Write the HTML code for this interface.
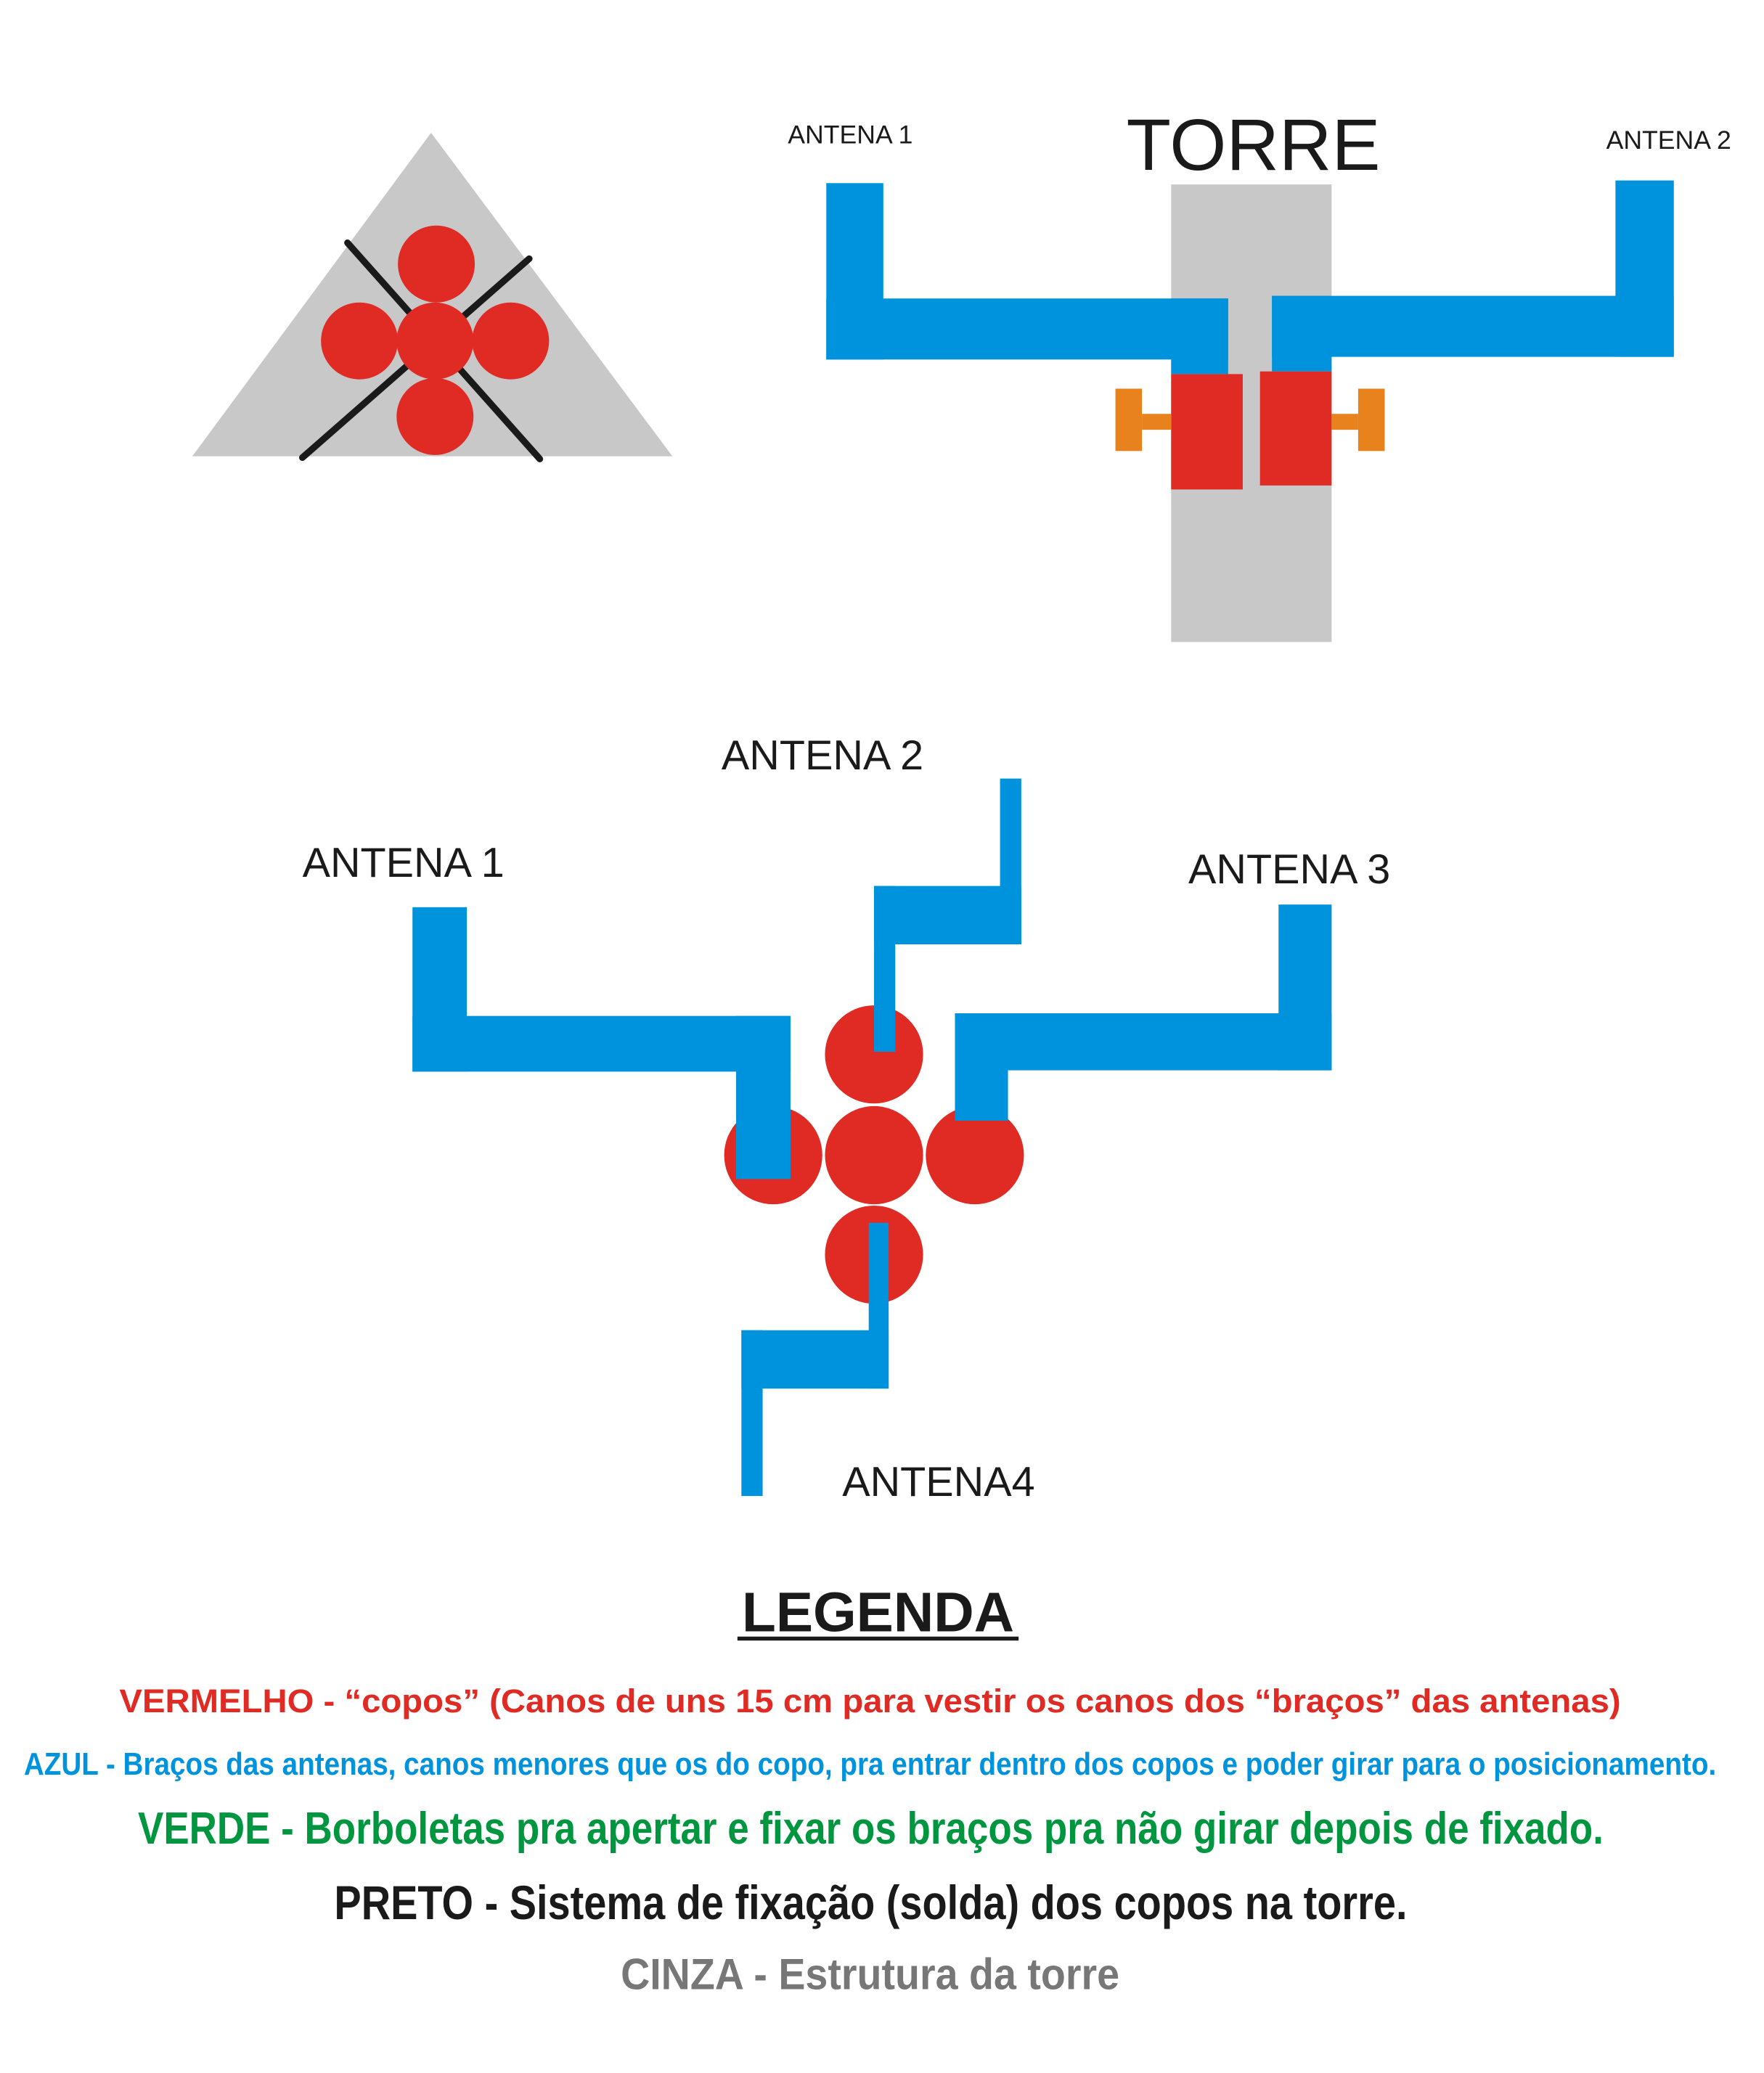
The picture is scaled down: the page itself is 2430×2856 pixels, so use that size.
<!DOCTYPE html>
<html><head><meta charset="utf-8"><style>html,body{margin:0;padding:0;background:#fff}svg{display:block}</style></head>
<body>
<svg width="2430" height="2856" viewBox="0 0 1330 1563" xmlns="http://www.w3.org/2000/svg" font-family="Liberation Sans, sans-serif">
<rect width="1330" height="1563" fill="#fff"/>
<polygon points="325,100 145,344 507,344" fill="#c8c8c8"/>
<g stroke="#1a1a1a" stroke-width="5" stroke-linecap="round">
<line x1="262" y1="183" x2="407" y2="346"/>
<line x1="399" y1="195" x2="228" y2="345"/>
</g>
<g fill="#e02a24">
<circle cx="329" cy="199" r="29"/><circle cx="271" cy="257" r="29"/><circle cx="328" cy="257" r="29"/><circle cx="385" cy="257" r="29"/><circle cx="328" cy="314" r="29"/>
</g>
<rect x="883" y="139" width="121" height="345" fill="#c8c8c8"/>
<text x="945" y="128" font-size="55" text-anchor="middle" fill="#1a1a1a">TORRE</text>
<g fill="#0093dd">
<rect x="623" y="138" width="43" height="133"/><rect x="623" y="225" width="303" height="46"/><rect x="883" y="225" width="43" height="57"/>
<rect x="1218" y="136" width="44" height="133"/><rect x="959" y="223" width="303" height="46"/><rect x="959" y="223" width="45" height="57"/>
</g>
<rect x="883" y="282" width="54" height="87" fill="#e02a24"/>
<rect x="950" y="280" width="54" height="86" fill="#e02a24"/>
<g fill="#e8821c">
<rect x="841" y="293" width="20" height="47"/><rect x="861" y="312" width="22" height="12"/>
<rect x="1024" y="293" width="20" height="47"/><rect x="1004" y="312" width="20" height="12"/>
</g>
<text x="594" y="108" font-size="19.5" fill="#1a1a1a">ANTENA 1</text>
<text x="1211" y="112" font-size="19.5" fill="#1a1a1a">ANTENA 2</text>
<g fill="#e02a24">
<circle cx="659" cy="795" r="37"/><circle cx="583" cy="871" r="37"/><circle cx="659" cy="871" r="37"/><circle cx="735" cy="871" r="37"/><circle cx="659" cy="946" r="37"/>
</g>
<g fill="#0093dd">
<rect x="311" y="684" width="41" height="124"/><rect x="311" y="766" width="285" height="42"/><rect x="555" y="766" width="41" height="123"/>
<rect x="754" y="587" width="16" height="125"/><rect x="659" y="668" width="111" height="44"/><rect x="659" y="668" width="16" height="125"/>
<rect x="964" y="682" width="40" height="125"/><rect x="720" y="764" width="284" height="43"/><rect x="720" y="764" width="40" height="81"/>
<rect x="655" y="922" width="15" height="125"/><rect x="559" y="1003" width="111" height="44"/><rect x="559" y="1003" width="16" height="125"/>
</g>
<g font-size="31.5" fill="#1a1a1a">
<text x="544" y="580">ANTENA 2</text>
<text x="228" y="661">ANTENA 1</text>
<text x="896" y="666">ANTENA 3</text>
<text x="635" y="1128">ANTENA4</text>
</g>
<text x="662" y="1230" font-size="42" font-weight="bold" text-anchor="middle" fill="#1a1a1a">LEGENDA</text>
<rect x="556" y="1234" width="212" height="3" fill="#1a1a1a"/>
<g font-weight="bold">
<text x="90" y="1291" font-size="25" fill="#e02a24" textLength="1132" lengthAdjust="spacingAndGlyphs">VERMELHO - “copos” (Canos de uns 15 cm para vestir os canos dos “braços” das antenas)</text>
<text x="18" y="1338" font-size="24" fill="#0093dd" textLength="1276" lengthAdjust="spacingAndGlyphs">AZUL - Braços das antenas, canos menores que os do copo, pra entrar dentro dos copos e poder girar para o posicionamento.</text>
<text x="104" y="1390" font-size="34" fill="#009640" textLength="1105" lengthAdjust="spacingAndGlyphs">VERDE - Borboletas pra apertar e fixar os braços pra não girar depois de fixado.</text>
<text x="252" y="1447" font-size="36" fill="#1a1a1a" textLength="809" lengthAdjust="spacingAndGlyphs">PRETO - Sistema de fixação (solda) dos copos na torre.</text>
<text x="468" y="1500" font-size="33" fill="#777" textLength="376" lengthAdjust="spacingAndGlyphs">CINZA - Estrutura da torre</text>
</g>
</svg>
</body></html>
